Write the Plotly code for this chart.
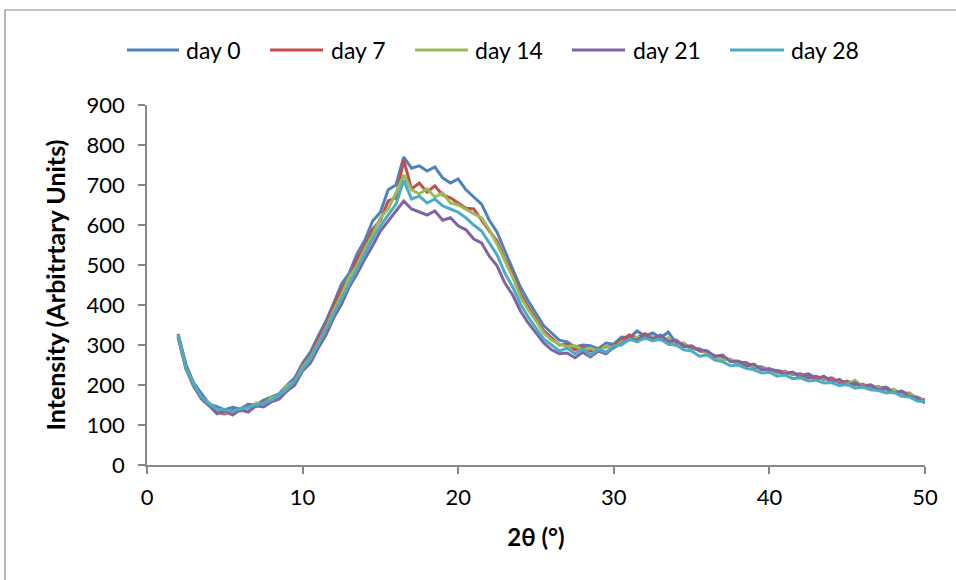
import plotly.graph_objects as go

# 2-theta sampling positions (degrees)
two_theta = [
    2.0, 2.5, 3.0, 3.5, 4.0, 4.5, 5.0, 5.5, 6.0, 6.5, 7.0, 7.5, 8.0, 8.5, 9.0, 9.5,
    10.0, 10.5, 11.0, 11.5, 12.0, 12.5, 13.0, 13.5, 14.0, 14.5, 15.0, 15.5, 16.0, 16.5,
    17.0, 17.5, 18.0, 18.5, 19.0, 19.5, 20.0, 20.5, 21.0, 21.5, 22.0, 22.5, 23.0, 23.5,
    24.0, 24.5, 25.0, 25.5, 26.0, 26.5, 27.0, 27.5, 28.0, 28.5, 29.0, 29.5, 30.0, 30.5,
    31.0, 31.5, 32.0, 32.5, 33.0, 33.5, 34.0, 34.5, 35.0, 35.5, 36.0, 36.5, 37.0, 37.5,
    38.0, 38.5, 39.0, 39.5, 40.0, 40.5, 41.0, 41.5, 42.0, 42.5, 43.0, 43.5, 44.0, 44.5,
    45.0, 45.5, 46.0, 46.5, 47.0, 47.5, 48.0, 48.5, 49.0, 49.5, 50.0,
]

day0 = [
    328, 252, 205, 178, 152, 146, 138, 144, 140, 152, 150, 162, 170, 178, 200, 218,
    255, 282, 322, 360, 405, 452, 480, 528, 562, 610, 632, 688, 700, 770,
    742, 748, 735, 745, 718, 705, 715, 688, 670, 652, 612, 582, 535, 492,
    445, 410, 380, 348, 330, 312, 308, 295, 300, 298, 290, 305, 302, 320,
    318, 335, 322, 330, 318, 332, 305, 300, 292, 288, 282, 272, 270, 262,
    258, 255, 246, 245, 238, 236, 232, 230, 224, 228, 218, 220, 212, 210,
    206, 208, 198, 200, 192, 195, 182, 185, 174, 170, 160,
]

day7 = [
    322, 248, 200, 172, 150, 132, 128, 138, 135, 148, 146, 158, 160, 176, 192, 212,
    248, 272, 315, 348, 398, 440, 468, 515, 548, 590, 612, 660, 668, 762,
    690, 705, 682, 698, 675, 668, 655, 642, 640, 612, 585, 560, 515, 478,
    428, 395, 365, 335, 318, 300, 302, 288, 296, 285, 292, 295, 300, 312,
    325, 318, 328, 318, 322, 312, 308, 296, 298, 285, 282, 270, 268, 262,
    252, 256, 244, 242, 240, 232, 234, 226, 228, 218, 222, 214, 218, 206,
    210, 200, 202, 194, 196, 186, 188, 178, 180, 165, 163,
]

day14 = [
    318, 240, 195, 168, 155, 138, 132, 128, 142, 140, 155, 152, 168, 172, 198, 208,
    245, 268, 305, 342, 385, 425, 470, 498, 540, 575, 618, 640, 680, 725,
    688, 678, 690, 670, 680, 655, 650, 638, 628, 618, 588, 552, 512, 470,
    420, 388, 360, 330, 312, 302, 296, 298, 288, 292, 285, 298, 292, 308,
    312, 320, 315, 322, 312, 318, 298, 305, 290, 292, 276, 274, 262, 265,
    252, 250, 248, 240, 242, 230, 232, 228, 222, 225, 215, 218, 210, 212,
    202, 212, 196, 198, 194, 186, 190, 176, 178, 168, 158,
]

day21 = [
    320, 242, 198, 165, 148, 128, 135, 125, 138, 132, 148, 145, 158, 165, 185, 200,
    235, 255, 292, 325, 368, 402, 445, 478, 515, 548, 585, 610, 632, 660,
    640, 632, 625, 635, 612, 618, 598, 588, 565, 555, 522, 498, 455, 425,
    385, 355, 330, 305, 288, 278, 280, 268, 282, 270, 285, 278, 295, 302,
    318, 312, 325, 315, 325, 308, 312, 298, 295, 288, 285, 272, 275, 258,
    260, 248, 252, 238, 240, 234, 228, 232, 220, 226, 214, 222, 208, 214,
    200, 206, 194, 200, 188, 192, 180, 184, 172, 168, 155,
]

day28 = [
    325, 245, 202, 170, 152, 140, 138, 135, 140, 145, 150, 155, 162, 175, 190, 210,
    240, 265, 300, 338, 378, 415, 455, 490, 528, 565, 598, 625, 652, 712,
    665, 672, 655, 665, 648, 640, 632, 618, 600, 585, 555, 525, 480, 445,
    402, 370, 342, 315, 300, 285, 292, 278, 290, 275, 290, 282, 298, 300,
    315, 308, 318, 310, 315, 302, 300, 288, 285, 272, 275, 262, 258, 248,
    250, 242, 238, 230, 232, 222, 225, 216, 218, 210, 212, 205, 206, 198,
    202, 192, 195, 188, 186, 180, 182, 172, 170, 160, 158,
]

series_names = ["day 0", "day 7", "day 14", "day 21", "day 28"]
series_values = [day0, day7, day14, day21, day28]
series_colors = ["#4F81BD", "#C0504D", "#9BBB59", "#8064A2", "#4BACC6"]

x_ticks = [0, 10, 20, 30, 40, 50]
y_ticks = [0, 100, 200, 300, 400, 500, 600, 700, 800, 900]

W, H = 956, 580
L, R, T, B = 147, 31, 105, 115
PW, PH = W - L - R, H - T - B

FONT = "Lato"
AXIS_GREY = "#888888"


def px_to_paper(px, py):
    return (px - L) / PW, (H - B - py) / PH


fig = go.Figure()
for name, vals, col in zip(series_names, series_values, series_colors):
    fig.add_trace(go.Scatter(
        x=two_theta, y=vals, name=name, mode="lines",
        line=dict(color=col, width=3),
        showlegend=False,
    ))

shapes = []
annotations = []

# Legend row drawn as short line samples with labels
legend_items = [(127, 179, 184), (270, 323, 329), (415, 468, 473), (572, 625, 631), (730, 784, 789)]
legend_y = 50
for (x0, x1, tx), name, col in zip(legend_items, series_names, series_colors):
    ax0, ay = px_to_paper(x0, legend_y)
    ax1, _ = px_to_paper(x1, legend_y)
    shapes.append(dict(type="line", xref="paper", yref="paper",
                       x0=ax0, x1=ax1, y0=ay, y1=ay,
                       line=dict(color=col, width=3)))
    atx, _ = px_to_paper(tx, legend_y)
    annotations.append(dict(xref="paper", yref="paper", x=atx, y=ay,
                            xanchor="left", yanchor="middle", showarrow=False,
                            text=name, font=dict(family=FONT, size=23, color="#000000")))

# Chart-area frame
fx0, fy0 = px_to_paper(5, 10)
fx1, fy1 = px_to_paper(970, 600)
shapes.append(dict(type="rect", xref="paper", yref="paper",
                   x0=fx0, y0=fy1, x1=fx1, y1=fy0,
                   line=dict(color=AXIS_GREY, width=1.2), fillcolor="rgba(0,0,0,0)",
                   layer="below"))

fig.update_layout(
    width=W, height=H,
    margin=dict(l=L, r=R, t=T, b=B, autoexpand=False),
    paper_bgcolor="white", plot_bgcolor="white",
    font=dict(family=FONT, size=22, color="#000000"),
    shapes=shapes, annotations=annotations,
    xaxis=dict(
        range=[0, 50], tickvals=x_ticks, ticktext=[str(v) for v in x_ticks],
        showgrid=False, zeroline=False,
        showline=True, linecolor=AXIS_GREY, linewidth=1.5,
        ticks="outside", ticklen=7, tickwidth=1.5, tickcolor=AXIS_GREY,
        ticklabelstandoff=5,
        tickfont=dict(family=FONT, size=22, color="#000000"),
        title=dict(text="<b>2θ (°)</b>", font=dict(family=FONT, size=24), standoff=20),
    ),
    yaxis=dict(
        range=[0, 900], tickvals=y_ticks, ticktext=[str(v) for v in y_ticks],
        showgrid=False, zeroline=False,
        showline=True, linecolor=AXIS_GREY, linewidth=1.5,
        ticks="outside", ticklen=7, tickwidth=1.5, tickcolor=AXIS_GREY,
        ticklabelstandoff=9,
        tickfont=dict(family=FONT, size=22, color="#000000"),
        title=dict(text="<b>Intensity (Arbitrtary Units)</b>", font=dict(family=FONT, size=25), standoff=14),
    ),
)

fig.write_html("out.html")
